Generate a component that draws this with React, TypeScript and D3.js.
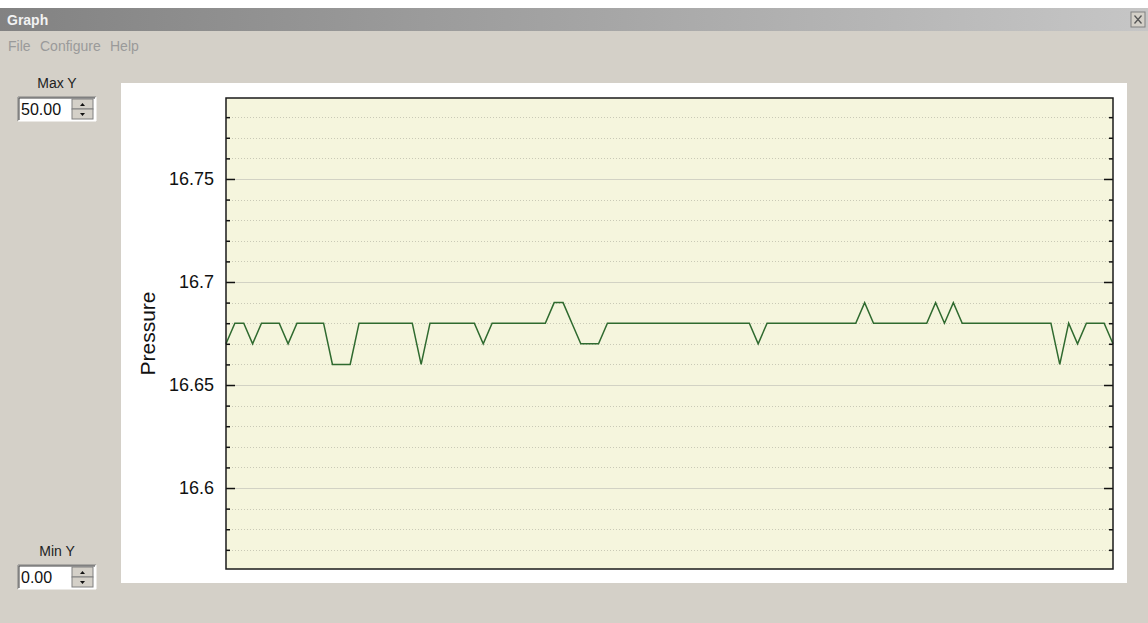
import React, { useEffect, useRef } from "react";
import * as d3 from "d3";

// samples, one every 1/100 of the plot width
const pressure = [
  16.67, 16.68, 16.68, 16.67, 16.68, 16.68, 16.68, 16.67, 16.68, 16.68,
  16.68, 16.68, 16.66, 16.66, 16.66, 16.68, 16.68, 16.68, 16.68, 16.68,
  16.68, 16.68, 16.66, 16.68, 16.68, 16.68, 16.68, 16.68, 16.68, 16.67,
  16.68, 16.68, 16.68, 16.68, 16.68, 16.68, 16.68, 16.69, 16.69, 16.68,
  16.67, 16.67, 16.67, 16.68, 16.68, 16.68, 16.68, 16.68, 16.68, 16.68,
  16.68, 16.68, 16.68, 16.68, 16.68, 16.68, 16.68, 16.68, 16.68, 16.68,
  16.67, 16.68, 16.68, 16.68, 16.68, 16.68, 16.68, 16.68, 16.68, 16.68,
  16.68, 16.68, 16.69, 16.68, 16.68, 16.68, 16.68, 16.68, 16.68, 16.68,
  16.69, 16.68, 16.69, 16.68, 16.68, 16.68, 16.68, 16.68, 16.68, 16.68,
  16.68, 16.68, 16.68, 16.68, 16.66, 16.68, 16.67, 16.68, 16.68, 16.68,
  16.67,
];
const yDomain = [16.5607, 16.7893];
const majorTicks = [16.6, 16.65, 16.7, 16.75];
const majorLabels = ["16.6", "16.65", "16.7", "16.75"];
const minorTicks = [
  16.57, 16.58, 16.59, 16.61, 16.62, 16.63, 16.64, 16.66, 16.67, 16.68,
  16.69, 16.71, 16.72, 16.73, 16.74, 16.76, 16.77, 16.78,
];
const menuItems = ["File", "Configure", "Help"];
const maxY = "50.00";
const minY = "0.00";

const W = 1148;
const H = 623;
const plot = { left: 226, top: 98, right: 1113, bottom: 569 };
const font = "'Liberation Sans', Arial, sans-serif";

function Spinner({ x, y, label, value }: { x: number; y: number; label: string; value: string }) {
  const w = 78;
  const h = 24;
  const bx = x + w - 24;
  return (
    <g>
      <text x={x + w / 2} y={y - 9} textAnchor="middle" fontFamily={font} fontSize={14} fill="#222">
        {label}
      </text>
      <rect x={x} y={y} width={w} height={h} fill="#fff" />
      <path d={`M${x},${y + h} V${y} H${x + w}`} stroke="#808080" fill="none" />
      <path d={`M${x + 1},${y + h - 1} V${y + 1} H${x + w - 1}`} stroke="#404040" fill="none" />
      <path d={`M${x},${y + h} H${x + w} V${y}`} stroke="#fff" fill="none" />
      <text x={x + 3} y={y + 18} fontFamily={font} fontSize={16} fill="#111">
        {value}
      </text>
      {[0, 1].map((k) => {
        const by = y + 2 + k * 10;
        return (
          <g key={k}>
            <rect x={bx} y={by} width={21} height={10} fill="#d4d0c8" stroke="#808080" strokeWidth={1} />
            <path
              d={
                k === 0
                  ? `M${bx + 8},${by + 7} L${bx + 13},${by + 7} L${bx + 10.5},${by + 4} Z`
                  : `M${bx + 8},${by + 4} L${bx + 13},${by + 4} L${bx + 10.5},${by + 7} Z`
              }
              fill="#111"
            />
          </g>
        );
      })}
    </g>
  );
}

export default function App() {
  const chartRef = useRef<SVGGElement>(null);

  useEffect(() => {
    document.body.style.margin = "0";
    const g = d3.select(chartRef.current);
    g.selectAll("*").remove();

    const x = d3.scaleLinear().domain([0, pressure.length - 1]).range([plot.left, plot.right]);
    const y = d3.scaleLinear().domain(yDomain).range([plot.bottom, plot.top]);

    g.append("rect")
      .attr("x", plot.left)
      .attr("y", plot.top)
      .attr("width", plot.right - plot.left)
      .attr("height", plot.bottom - plot.top)
      .attr("fill", "#f5f5dd");

    // dotted minor grid
    g.selectAll(".minor")
      .data(minorTicks)
      .join("line")
      .attr("x1", plot.left)
      .attr("x2", plot.right)
      .attr("y1", (d) => Math.round(y(d)) + 0.5)
      .attr("y2", (d) => Math.round(y(d)) + 0.5)
      .attr("stroke", "#c9c9b6")
      .attr("stroke-dasharray", "1 2");

    g.selectAll(".major")
      .data(majorTicks)
      .join("line")
      .attr("x1", plot.left)
      .attr("x2", plot.right)
      .attr("y1", (d) => Math.round(y(d)) + 0.5)
      .attr("y2", (d) => Math.round(y(d)) + 0.5)
      .attr("stroke", "#d2d2c4");

    const line = d3
      .line<number>()
      .x((_, i) => x(i))
      .y((d) => y(d));
    g.append("path")
      .datum(pressure)
      .attr("d", line)
      .attr("fill", "none")
      .attr("stroke", "#2f6a2f")
      .attr("stroke-width", 1.5);

    const left = g.append("g").attr("transform", `translate(${plot.left},0)`);
    left.call(
      d3.axisLeft(y).tickValues(majorTicks).tickSize(-9).tickPadding(12)
        .tickFormat((_, i) => majorLabels[i])
    );
    left.append("g").call(d3.axisLeft(y).tickValues(minorTicks).tickSize(-4).tickFormat(() => ""));

    const right = g.append("g").attr("transform", `translate(${plot.right},0)`);
    right.call(d3.axisRight(y).tickValues(majorTicks).tickSize(-9).tickFormat(() => ""));
    right.append("g").call(d3.axisRight(y).tickValues(minorTicks).tickSize(-4).tickFormat(() => ""));

    g.selectAll(".domain").remove();
    g.selectAll(".tick line").attr("stroke", "#111").attr("stroke-width", 1.5);
    g.selectAll(".tick text").attr("font-family", font).attr("font-size", 18).attr("fill", "#111");

    g.append("rect")
      .attr("x", plot.left)
      .attr("y", plot.top)
      .attr("width", plot.right - plot.left)
      .attr("height", plot.bottom - plot.top)
      .attr("fill", "none")
      .attr("stroke", "#1a1a1a")
      .attr("stroke-width", 1.5);

    g.append("text")
      .attr("transform", `translate(155,${(plot.top + plot.bottom) / 2}) rotate(-90)`)
      .attr("text-anchor", "middle")
      .attr("font-family", font)
      .attr("font-size", 21)
      .attr("fill", "#111")
      .text("Pressure");
  }, []);

  const menuX = [8, 40, 110];

  return (
    <div style={{ position: "absolute", left: 0, top: 0 }}>
      <svg width={W} height={H} style={{ display: "block" }}>
        <defs>
          <linearGradient id="titleGrad" x1="0" x2="1" y1="0" y2="0">
            <stop offset="0" stopColor="#828282" />
            <stop offset="1" stopColor="#c6c6c6" />
          </linearGradient>
        </defs>
        <rect width={W} height={H} fill="#d4d0c8" />
        <rect width={W} height={8} fill="#fff" />
        <rect x={0} y={8} width={W} height={23} fill="url(#titleGrad)" />
        <text x={7} y={25} fontFamily={font} fontWeight="bold" fontSize={14} fill="#f2f2f2">
          Graph
        </text>
        <g>
          <rect x={1131} y={12} width={14} height={15} fill="#d4d0c8" stroke="#808080" />
          <path d="M1134.5,15.5 L1141.5,23.5 M1141.5,15.5 L1134.5,23.5" stroke="#555" strokeWidth={1.3} />
        </g>
        {menuItems.map((m, i) => (
          <text key={m} x={menuX[i]} y={51} fontFamily={font} fontSize={14} fill="#9a9a9a">
            {m}
          </text>
        ))}
        <rect x={121} y={83} width={1006} height={500} fill="#fff" />
        <Spinner x={18} y={97} label="Max Y" value={maxY} />
        <Spinner x={18} y={565} label="Min Y" value={minY} />
        <g ref={chartRef} />
      </svg>
    </div>
  );
}
